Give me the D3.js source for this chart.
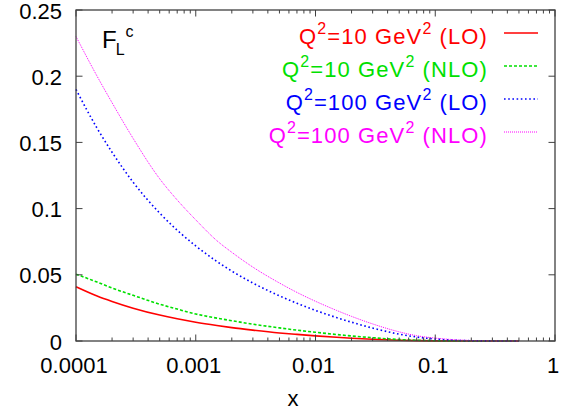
<!DOCTYPE html>
<html>
<head>
<meta charset="utf-8">
<script src="https://cdn.jsdelivr.net/npm/d3@7"></script>
<style>
  html, body { margin: 0; padding: 0; background: #fff; }
  svg { display: block; }
  text { font-family: "Liberation Sans", Arial, Helvetica, sans-serif; }
</style>
</head>
<body>
<svg id="chart" width="576" height="415"></svg>
<script>
// ---- data ----
const xValues = [1e-4, 1.5e-4, 2e-4, 3e-4, 5e-4, 7e-4, 1e-3, 1.5e-3, 2e-3, 3e-3, 5e-3, 7e-3,
                 0.01, 0.015, 0.02, 0.03, 0.05, 0.07, 0.1, 0.15, 0.2, 0.3, 0.5];
const lo10   = [0.041, 0.0340, 0.0299, 0.0248, 0.0196, 0.0168, 0.0142, 0.0117, 0.0101, 0.0082, 0.0061, 0.0050,
                0.0039, 0.0028, 0.0021, 0.0013, 0.00055, 0.00025, 0.00008, 0.00002, 0, 0, 0];
const nlo10  = [0.0505, 0.0445, 0.0400, 0.0345, 0.0278, 0.0241, 0.0204, 0.0173, 0.0153, 0.0127, 0.0099, 0.0082,
                0.0066, 0.0049, 0.0038, 0.0025, 0.0011, 0.00055, 0.00019, 0.00004, 0, 0, 0];
const lo100  = [0.190, 0.1607, 0.1426, 0.1199, 0.0966, 0.0837, 0.0718, 0.0601, 0.0528, 0.0438, 0.0341, 0.0285,
                0.0231, 0.0177, 0.0142, 0.00975, 0.0052, 0.0030, 0.0015, 0.0005, 0.0002, 0.00005, 0];
const nlo100 = [0.230, 0.200, 0.180, 0.153, 0.1225, 0.1065, 0.0915, 0.0758, 0.0670, 0.0558, 0.0438, 0.0367,
                0.0300, 0.0231, 0.0186, 0.0129, 0.0069, 0.0040, 0.0022, 0.0009, 0.0004, 0.0001, 0];
const seriesNames = [["10", "LO"], ["10", "NLO"], ["100", "LO"], ["100", "NLO"]];
const xTickValues = [1e-4, 1e-3, 1e-2, 1e-1, 1];
const xTickLabels = ["0.0001", "0.001", "0.01", "0.1", "1"];
const yTickValues = [0, 0.05, 0.1, 0.15, 0.2, 0.25];
const yTickLabels = ["0", "0.05", "0.1", "0.15", "0.2", "0.25"];

// ---- styles ----
const styles = [
  { color: "#ff0000", width: 1.6, dash: null },
  { color: "#00e000", width: 1.6, dash: "3,2" },
  { color: "#0000ff", width: 1.6, dash: "1.6,2.6" },
  { color: "#ff00ff", width: 1.0, dash: "1,1" }
];
const seriesValues = [lo10, nlo10, lo100, nlo100];

const svg = d3.select("#chart");
const L = 76, R = 555, T = 10, B = 341;
const x = d3.scaleLog().domain([1e-4, 1]).range([L, R]);
const y = d3.scaleLinear().domain([0, 0.25]).range([B, T]);
const frameColor = "#404040";
const FS = 22;

// curves
const line = d3.line()
  .x(d => x(d[0]))
  .y(d => y(d[1]))
  .curve(d3.curveMonotoneX);

seriesValues.forEach((vals, i) => {
  const pts = xValues.map((xv, j) => [xv, vals[j]]);
  svg.append("path")
    .attr("d", line(pts))
    .attr("fill", "none")
    .attr("stroke", styles[i].color)
    .attr("stroke-width", styles[i].width)
    .attr("stroke-dasharray", styles[i].dash);
});

// ticks (inward, mirrored)
const g = svg.append("g");
const minorX = [];
for (let e = -4; e < 0; e++) for (let k = 2; k <= 9; k++) minorX.push(k * Math.pow(10, e));
minorX.forEach(v => {
  g.append("line").attr("x1", x(v)).attr("x2", x(v)).attr("y1", B).attr("y2", B - 3.5).attr("stroke", frameColor);
  g.append("line").attr("x1", x(v)).attr("x2", x(v)).attr("y1", T).attr("y2", T + 3.5).attr("stroke", frameColor);
});
xTickValues.forEach((v, i) => {
  g.append("line").attr("x1", x(v)).attr("x2", x(v)).attr("y1", B).attr("y2", B - 6.5).attr("stroke", frameColor);
  g.append("line").attr("x1", x(v)).attr("x2", x(v)).attr("y1", T).attr("y2", T + 6.5).attr("stroke", frameColor);
  g.append("text").attr("x", x(v) - 2).attr("y", B + 32).attr("text-anchor", "middle")
    .attr("font-size", FS).attr("fill", "#000").text(xTickLabels[i]);
});
yTickValues.forEach((v, i) => {
  g.append("line").attr("x1", L).attr("x2", L + 6.5).attr("y1", y(v)).attr("y2", y(v)).attr("stroke", frameColor);
  g.append("line").attr("x1", R).attr("x2", R - 6.5).attr("y1", y(v)).attr("y2", y(v)).attr("stroke", frameColor);
  g.append("text").attr("x", 62).attr("y", y(v) + 8.5).attr("text-anchor", "end")
    .attr("font-size", FS).attr("fill", "#000").text(yTickLabels[i]);
});

// frame
svg.append("rect").attr("x", L).attr("y", T).attr("width", R - L).attr("height", B - T)
  .attr("fill", "none").attr("stroke", frameColor).attr("stroke-width", 1.3);

// axis label
svg.append("text").attr("x", 293).attr("y", 406).attr("text-anchor", "middle")
  .attr("font-size", FS).attr("fill", "#000").text("x");

// F_L^c label
const fl = svg.append("text").attr("x", 102).attr("y", 48).attr("font-size", 24).attr("fill", "#000");
fl.append("tspan").text("F");
fl.append("tspan").attr("font-size", 16).attr("dy", 7).attr("dx", -1).text("L");
fl.append("tspan").attr("font-size", 16).attr("dy", -18).attr("dx", 1).text("c");

// legend
seriesNames.forEach((s, i) => {
  const yy = 33 + 33 * i;
  const t = svg.append("text").attr("x", 488).attr("y", yy + 11).attr("text-anchor", "end")
    .attr("font-size", FS).attr("letter-spacing", 1.1).attr("fill", styles[i].color);
  t.append("tspan").text("Q");
  t.append("tspan").attr("font-size", 16).attr("dy", -10).text("2");
  t.append("tspan").attr("dy", 10).text("=" + s[0] + " GeV");
  t.append("tspan").attr("font-size", 16).attr("dy", -10).text("2");
  t.append("tspan").attr("dy", 10).text(" (" + s[1] + ")");
  svg.append("line").attr("x1", 504).attr("x2", 538).attr("y1", yy).attr("y2", yy)
    .attr("stroke", styles[i].color).attr("stroke-width", styles[i].width)
    .attr("stroke-dasharray", styles[i].dash);
});
</script>
</body>
</html>
